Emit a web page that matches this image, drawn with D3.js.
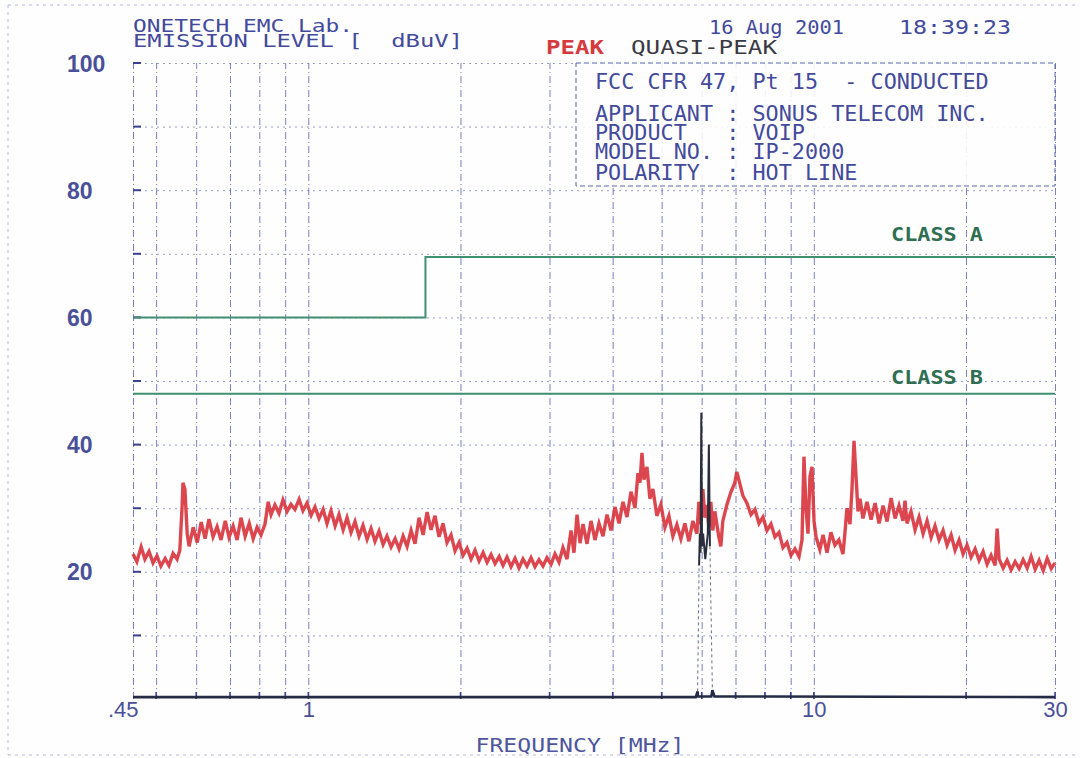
<!DOCTYPE html>
<html>
<head>
<meta charset="utf-8">
<script src="https://cdn.jsdelivr.net/npm/d3@7"></script>
<style>
  body { margin: 0; background: #fff; }
  .plot { font-family: "DejaVu Sans Mono", monospace; }
</style>
</head>
<body>
<div id="chart"></div>
<script>
// values
var yTicks = [20, 40, 60, 80, 100];
var xTickVals = [0.45, 1, 10, 30];
var xTickText = [".45", "1", "10", "30"];
var gridFreqs = [0.5, 0.6, 0.7, 0.8, 0.9, 1, 2, 3, 4, 5, 6, 7, 8, 9, 10, 20, 30];
var gridLevels = [10, 20, 30, 40, 50, 60, 70, 80, 90, 100];

// FCC Pt 15 (old) conducted limits, dBuV
var classA = [[0.45, 60], [1.705, 60], [1.705, 69.5], [30, 69.5]];
var classB = [[0.45, 48], [30, 48]];

var infoLines = [
  "FCC CFR 47, Pt 15  - CONDUCTED",
  "APPLICANT : SONUS TELECOM INC.",
  "PRODUCT   : VOIP",
  "MODEL NO. : IP-2000",
  "POLARITY  : HOT LINE"
];

// peak detector sweep [MHz, dBuV]
var peakTrace = [
[0.450,22.8],[0.458,21.6],[0.467,23.9],[0.475,22.0],[0.484,23.2],[0.493,21.4],[0.502,22.5],[0.511,20.9],[0.521,22.1],[0.530,21.0],[0.540,22.9],[0.550,22.0],[0.557,23.4],[0.563,30.5],[0.565,34.0],[0.570,33.0],[0.576,26.0],[0.581,24.0],[0.592,27.0],[0.603,24.6],[0.614,27.8],[0.625,25.2],[0.636,28.3],[0.648,25.5],[0.660,27.1],[0.672,25.0],[0.685,28.0],[0.697,25.4],[0.710,27.2],[0.723,25.0],[0.736,28.5],[0.750,25.6],[0.764,27.6],[0.778,25.2],[0.792,27.0],[0.806,25.8],[0.821,27.5],[0.833,31.0],[0.844,29.0],[0.859,30.5],[0.875,29.2],[0.891,31.3],[0.908,29.5],[0.924,30.6],[0.941,29.8],[0.959,31.4],[0.976,29.6],[0.994,30.8],
[1.013,28.9],[1.031,30.2],[1.050,28.4],[1.070,29.8],[1.089,27.6],[1.109,29.6],[1.130,27.2],[1.150,29.0],[1.172,26.6],[1.193,28.5],[1.215,26.2],[1.237,27.9],[1.260,25.6],[1.283,27.3],[1.307,25.1],[1.331,26.8],[1.355,24.8],[1.380,26.4],[1.406,24.3],[1.431,25.6],[1.458,23.9],[1.485,25.2],[1.512,23.6],[1.540,25.6],[1.568,24.0],[1.597,26.5],[1.626,24.4],[1.656,28.5],[1.687,25.8],[1.718,29.4],[1.749,26.6],[1.781,28.8],[1.814,25.5],[1.847,27.6],[1.881,24.6],[1.916,25.8],[1.951,23.3],[1.987,24.6],
[2.024,22.6],[2.061,23.7],[2.099,22.0],[2.137,23.4],[2.177,21.7],[2.217,23.0],[2.258,21.5],[2.299,22.7],[2.341,21.3],[2.385,22.4],[2.428,21.0],[2.472,22.3],[2.518,20.8],[2.564,22.1],[2.611,20.6],[2.659,22.0],[2.708,20.9],[2.758,22.2],[2.808,20.8],[2.860,21.9],[2.913,20.9],[2.966,22.2],[3.021,21.2],[3.076,22.8],[3.133,21.5],[3.190,23.8],[3.249,22.0],[3.309,26.5],[3.354,23.0],[3.401,29.0],[3.448,24.5],[3.495,27.5],[3.559,24.4],[3.625,28.0],[3.691,25.0],[3.759,27.6],[3.828,25.6],[3.899,29.0],[3.970,26.5],
[4.043,30.2],[4.118,27.6],[4.193,31.0],[4.270,28.6],[4.349,32.6],[4.429,30.0],[4.489,35.5],[4.530,34.0],[4.571,38.7],[4.613,34.5],[4.676,36.5],[4.740,31.5],[4.805,33.0],[4.893,28.8],[4.983,30.6],[5.075,27.0],[5.168,28.8],[5.263,25.6],[5.360,27.4],[5.458,25.2],[5.559,27.6],[5.661,24.8],[5.765,28.0],[5.871,26.0],[5.924,31.0],[5.978,27.5],[6.033,33.0],[6.088,28.5],[6.143,30.5],[6.199,27.0],[6.256,31.0],[6.313,26.5],[6.371,29.5],[6.488,25.5],[6.547,24.0],[6.607,28.0],[6.729,30.5],[6.852,32.5],[6.978,34.0],[7.042,35.7],[7.106,34.5],[7.237,32.0],[7.375,30.8],[7.511,29.0],[7.649,29.8],[7.790,27.6],[7.933,28.6],[8.079,26.5],[8.227,27.5],[8.379,25.5],[8.533,26.2],[8.690,23.8],[8.850,24.6],[9.013,22.6],[9.179,23.6],[9.347,22.4],[9.476,25.0],[9.562,38.1],[9.650,30.0],[9.738,26.0],[9.827,35.0],[9.917,36.5],
[10.01,28.0],[10.10,25.5],[10.28,23.5],[10.43,25.8],[10.62,23.0],[10.81,26.2],[11.01,24.2],[11.21,25.0],[11.42,22.8],[11.52,26.0],[11.63,30.0],[11.79,27.5],[11.90,33.0],[12.01,40.6],[12.12,35.0],[12.23,29.5],[12.34,31.5],[12.51,28.4],[12.74,31.0],[12.98,28.2],[13.22,30.8],[13.46,27.6],[13.71,30.4],[13.96,27.9],[14.22,31.6],[14.48,28.4],[14.74,30.4],[15.01,28.0],[15.15,31.2],[15.29,27.6],[15.57,29.5],[15.86,26.6],[16.15,28.6],[16.45,26.0],[16.75,28.0],[17.06,25.4],[17.37,27.2],[17.69,25.0],[18.02,26.5],[18.35,24.2],[18.69,25.8],[19.03,23.4],[19.38,25.0],[19.74,22.8],
[20.10,24.2],[20.47,22.3],[20.85,23.6],[21.23,21.8],[21.62,23.2],[22.02,21.2],[22.42,22.6],[22.84,21.0],[23.05,26.8],[23.26,22.0],[23.69,20.6],[24.12,21.8],[24.57,20.3],[25.02,21.6],[25.48,20.5],[25.95,21.9],[26.43,20.6],[26.91,22.4],[27.41,20.4],[27.91,21.8],[28.43,20.2],[28.95,22.1],[29.49,20.5],[30.0,21.4]
];

// quasi-peak detector: floor, and the readings taken round 6 MHz
var qpFloor = [[0.45,0.3],[5.84,0.3],[5.89,1.2],[5.90,0.4],[6.27,0.4],[6.30,1.4],[6.36,0.4],[30,0.3]];
var qpBurst = [[5.93,21],[5.95,26],[5.97,23],[5.99,45],[6.01,24],[6.04,26],[6.10,22],[6.17,26],[6.20,40],[6.23,24]];
var qpRise = [[[5.89,1.2],[5.93,21]], [[6.23,24],[6.30,1.4]]];

var W = 1080, H = 758;
var margin = { left: 133, right: 25, top: 63, bottom: 59 },
    width = W - margin.left - margin.right,
    height = H - margin.top - margin.bottom;

var ink = "#434a9c";

var svg = d3.select("#chart").append("svg")
  .attr("class", "plot")
  .attr("width", W).attr("height", H);

svg.append("rect").attr("width", W).attr("height", H).attr("fill", "#fefefe");

// sheet edge, dotted
svg.append("path")
  .attr("d", "M8,5 H1078 M8,5 V755 M8,755 H1078")
  .attr("fill", "none").attr("stroke", "#8a90c0")
  .attr("stroke-width", 1).attr("stroke-dasharray", "3,4").attr("opacity", 0.6);

var g = svg.append("g").attr("transform", "translate(" + margin.left + "," + margin.top + ")");

var x = d3.scaleLog().domain([0.45, 30]).range([0, width]);
var y = d3.scaleLinear().domain([0, 100]).range([height, 0]);

// grid
var vgrid = g.append("g").attr("class", "vgrid")
  .attr("transform", "translate(0," + height + ")")
  .call(d3.axisBottom(x).tickValues(gridFreqs.concat([0.45])).tickSize(-height).tickFormat(""));
vgrid.select(".domain").remove();
vgrid.selectAll("line").attr("stroke", "#4c58a8").attr("stroke-width", 1)
  .attr("stroke-dasharray", "7,3,1,3").attr("opacity", 0.75);

var hgrid = g.append("g").attr("class", "hgrid")
  .call(d3.axisLeft(y).tickValues(gridLevels).tickSize(-width).tickFormat(""));
hgrid.select(".domain").remove();
hgrid.selectAll("line").attr("stroke", "#5560aa").attr("stroke-width", 1)
  .attr("stroke-dasharray", "2,4").attr("opacity", 0.6);

// short marks at left end of each level line, and up from the floor
g.selectAll(".lmark").data(gridLevels).enter().append("line")
  .attr("x1", 0).attr("x2", 8)
  .attr("y1", function (d) { return y(d); }).attr("y2", function (d) { return y(d); })
  .attr("stroke", "#3b4290").attr("stroke-width", 2);
g.selectAll(".fmark").data(gridFreqs).enter().append("line")
  .attr("x1", function (d) { return x(d); }).attr("x2", function (d) { return x(d); })
  .attr("y1", height).attr("y2", height - 7)
  .attr("stroke", "#3b4290").attr("stroke-width", 1.5);

// info box
var boxX = 576 - margin.left;
g.append("rect")
  .attr("x", boxX).attr("y", 0)
  .attr("width", width - boxX).attr("height", 186 - margin.top)
  .attr("fill", "#fefefe").attr("stroke", "#4c58a8")
  .attr("stroke-width", 1).attr("stroke-dasharray", "5,3").attr("opacity", 0.9);

var infoY = [89, 121, 140, 159, 180];
svg.selectAll(".info").data(infoLines).enter().append("text")
  .attr("class", "info")
  .attr("x", 595)
  .attr("y", function (d, i) { return infoY[i]; })
  .attr("font-size", "21.8px")
  .attr("fill", ink)
  .attr("xml:space", "preserve")
  .style("white-space", "pre")
  .text(function (d) { return d; });

// limit lines
var line = d3.line().x(function (d) { return x(d[0]); }).y(function (d) { return y(d[1]); });

g.append("path").datum(classA).attr("d", line)
  .attr("fill", "none").attr("stroke", "#3f8f70").attr("stroke-width", 2);
g.append("path").datum(classB).attr("d", line)
  .attr("fill", "none").attr("stroke", "#3f8f70").attr("stroke-width", 2);

svg.append("text").attr("x", 891).attr("y", 241).attr("font-size", "20px")
  .attr("font-weight", "bold").attr("fill", "#2f6e52")
  .attr("textLength", 92).attr("lengthAdjust", "spacingAndGlyphs").text("CLASS A");
svg.append("text").attr("x", 891).attr("y", 384).attr("font-size", "20px")
  .attr("font-weight", "bold").attr("fill", "#2f6e52")
  .attr("textLength", 92).attr("lengthAdjust", "spacingAndGlyphs").text("CLASS B");

// traces
g.append("path").datum(peakTrace).attr("d", line)
  .attr("fill", "none").attr("stroke", "#d8323b").attr("stroke-width", 3.4)
  .attr("stroke-linejoin", "miter").attr("opacity", 0.9);

g.append("path").datum(qpFloor).attr("d", line)
  .attr("fill", "none").attr("stroke", "#252a45").attr("stroke-width", 2.6);
g.selectAll(".qprise").data(qpRise).enter().append("path")
  .attr("d", line)
  .attr("fill", "none").attr("stroke", "#6a6f80").attr("stroke-width", 1)
  .attr("stroke-dasharray", "3,3");
g.append("path").datum(qpBurst).attr("d", line)
  .attr("fill", "none").attr("stroke", "#2a2d3c").attr("stroke-width", 2);

// axis labels
var yAxis = g.append("g").call(d3.axisLeft(y).tickValues(yTicks).tickSize(0));
yAxis.select(".domain").remove();
yAxis.selectAll("text")
  .attr("x", 67 - margin.left).attr("dy", "0.35em")
  .attr("text-anchor", "start")
  .attr("font-family", "'Liberation Sans', Arial, sans-serif")
  .attr("font-size", "23px").attr("font-weight", "bold")
  .attr("fill", "#4a5098");

var xAxis = g.append("g").attr("transform", "translate(0," + height + ")")
  .call(d3.axisBottom(x).tickValues(xTickVals).tickSize(0)
    .tickFormat(function (d, i) { return xTickText[i]; }));
xAxis.select(".domain").remove();
xAxis.selectAll("text")
  .attr("y", 2).attr("dy", "0.71em")
  .attr("font-family", "'Liberation Sans', Arial, sans-serif")
  .attr("font-size", "22px")
  .attr("fill", "#4a5098")
  .attr("text-anchor", function (d, i) { return i === 0 ? "end" : "middle"; })
  .attr("dx", function (d, i) { return i === 0 ? 5 : 0; });

svg.append("text").attr("x", 580).attr("y", 752).attr("text-anchor", "middle")
  .attr("font-size", "19px").attr("fill", "#4f569c")
  .attr("textLength", 209).attr("lengthAdjust", "spacingAndGlyphs")
  .text("FREQUENCY [MHz]");

// header
svg.append("text").attr("x", 133).attr("y", 32).attr("font-size", "18px").attr("fill", ink)
  .attr("textLength", 220).attr("lengthAdjust", "spacingAndGlyphs").text("ONETECH EMC Lab.");
svg.append("text").attr("x", 133).attr("y", 47).attr("font-size", "18px").attr("fill", ink)
  .attr("textLength", 330).attr("lengthAdjust", "spacingAndGlyphs")
  .attr("xml:space", "preserve").style("white-space", "pre")
  .text("EMISSION LEVEL [  dBuV]");
svg.append("text").attr("x", 709).attr("y", 34).attr("font-size", "20px").attr("fill", ink)
  .attr("textLength", 135).attr("lengthAdjust", "spacingAndGlyphs").text("16 Aug 2001");
svg.append("text").attr("x", 899).attr("y", 34).attr("font-size", "20px").attr("fill", ink)
  .attr("textLength", 112).attr("lengthAdjust", "spacingAndGlyphs").text("18:39:23");
svg.append("text").attr("x", 546).attr("y", 54).attr("font-size", "20px")
  .attr("font-weight", "bold").attr("fill", "#d63a3e")
  .attr("textLength", 58).attr("lengthAdjust", "spacingAndGlyphs").text("PEAK");
svg.append("text").attr("x", 631).attr("y", 54).attr("font-size", "20px")
  .attr("fill", "#3a3a44")
  .attr("textLength", 146).attr("lengthAdjust", "spacingAndGlyphs").text("QUASI-PEAK");
</script>
</body>
</html>
